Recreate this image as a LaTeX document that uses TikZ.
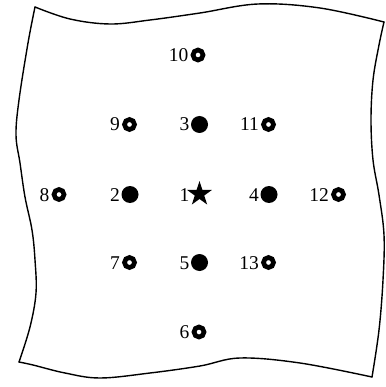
\documentclass[tikz,border=0pt]{standalone}
\usepackage{fontspec}
\setmainfont{Liberation Serif}
\usetikzlibrary{shapes.geometric}
\begin{document}
\begin{tikzpicture}[x=1pt,y=-1pt,
  edge/.style={line width=1.4pt, line join=round, line cap=round},
  ring/.style={circle, minimum size=14pt, inner sep=0pt},
  ringline/.style={line width=4.7pt},
  dot/.style={circle, fill=black, minimum size=17pt, inner sep=0pt},
  starmark/.style={star, star points=5, star point ratio=2.6, fill=black, minimum size=26pt, inner sep=0pt},
  lab/.style={anchor=base east, inner sep=0pt, font=\fontsize{19.5}{22}\selectfont}]
\useasboundingbox (0,0) rectangle (385,387);
% sheet outline
\draw[edge] plot[smooth, tension=0.6] coordinates {(35,7) (70,19) (110,24) (150,20) (200,13) (258,4) (320,8) (384,22)};
\draw[edge] plot[smooth, tension=0.6] coordinates {(384,22) (379,45) (373,80) (371,120) (373,160) (379,195) (384,235) (383,280) (379,330) (372,377)};
\draw[edge] plot[smooth, tension=0.6] coordinates {(35,7) (28,43) (19,100) (16,135) (20,163) (25,197) (32,230) (35,260) (36,293) (30,327) (19,362)};
\draw[edge] plot[smooth, tension=0.6] coordinates {(19,362) (33,365) (65,373) (100,378) (150,373) (200,366) (240,358) (300,363) (372,377)};
% markers
\node[starmark] (m1) at (199.5,194) {};
\node[dot] (m2) at (130,194.5) {};
\node[dot] (m3) at (199.5,124.5) {};
\node[dot] (m4) at (269,194.5) {};
\node[dot] (m5) at (199.5,262.5) {};
\node[ring] (m6) at (199,332) {};
\node[ring] (m7) at (129.5,262.5) {};
\node[ring] (m8) at (59,194.5) {};
\node[ring] (m9) at (129.5,124.5) {};
\node[ring] (m10) at (198,55) {};
\node[ring] (m11) at (268.5,124.5) {};
\node[ring] (m12) at (338.5,194.5) {};
\node[ring] (m13) at (268.5,262.5) {};
\foreach \i in {6,7,8,9,10,11,12,13}{
  \draw[ringline] (m\i.center) circle[radius=5pt];
}
% labels
\node[lab] (l1) at ([xshift=-10pt,yshift=-7pt]m1.center) {1};
\foreach \i in {2,3,4,5}{
  \node[lab] (l\i) at ([xshift=-10pt,yshift=-6.5pt]m\i.center) {\i};
}
\foreach \i in {6,7,8,9,10,11,12,13}{
  \node[lab] (l\i) at ([xshift=-9.5pt,yshift=-6.5pt]m\i.center) {\i};
}
\end{tikzpicture}
\end{document}
